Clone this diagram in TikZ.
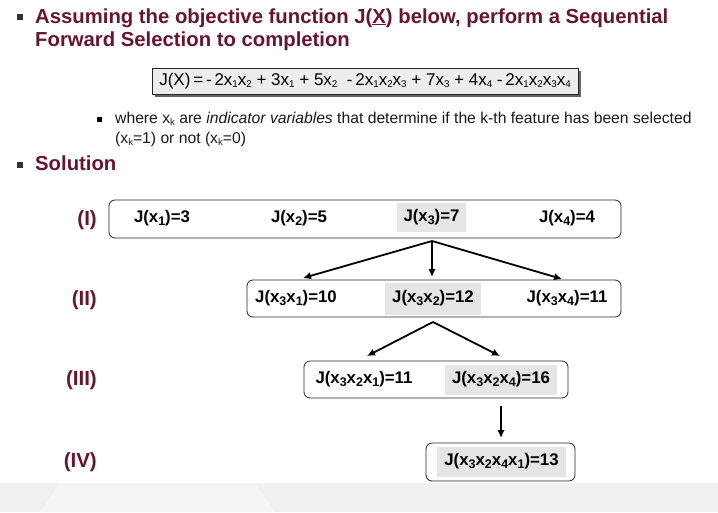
\documentclass[tikz,border=0pt]{standalone}
\usepackage{fontspec}
\setmainfont{Liberation Sans}
\usetikzlibrary{arrows.meta,shadows}
\definecolor{maroon}{RGB}{104,22,48}
\definecolor{hlgray}{RGB}{229,229,229}
\newcommand\fsub[1]{\raisebox{-2.4pt}{\fontsize{9.8}{9.8}\selectfont #1}}
\newcommand\tsub[1]{\raisebox{-2.2pt}{\fontsize{9.5}{9.5}\selectfont #1}}
\newcommand\bsub[1]{\raisebox{-3pt}{\fontsize{12.5}{12.5}\selectfont #1}}
\tikzset{
  head/.style={font=\fontsize{20.3}{23}\selectfont\bfseries, text=maroon, inner sep=0pt},
  lbl/.style={font=\fontsize{20.5}{22}\selectfont\bfseries, text=maroon, inner sep=0pt},
  bul/.style={fill=black!80, minimum size=6pt, inner sep=0pt},
  subbul/.style={fill=black, minimum size=5pt, inner sep=0pt},
  subtxt/.style={font=\fontsize{15.7}{18}\selectfont, text=black!90, inner sep=0pt},
  fbox/.style={draw=black!85, fill=black!7, minimum width=426pt, minimum height=26pt, inner sep=0pt,
    line width=0.8pt, font=\fontsize{17}{18}\selectfont,
    drop shadow={shadow xshift=3pt, shadow yshift=-3pt, fill=black!60, opacity=1}},
  stagebox/.style={draw=black!85, line width=0.8pt, rounded corners=6pt, inner sep=0pt},
  jt/.style={font=\fontsize{16.8}{18}\selectfont\bfseries, text height=12pt, text depth=4.5pt, inner sep=0pt},
  hl/.style={jt, fill=hlgray},
  arr/.style={-{Latex[length=8pt,width=7.5pt]}, line width=1.8pt, black}
}
\begin{document}
\begin{tikzpicture}[x=1pt,y=-1pt]
\useasboundingbox (0,0) rectangle (718,512);
\fill[white] (0,0) rectangle (718,512);
\fill[black!6] (0,483) rectangle (718,512);
\fill[black!4] (60,483) -- (255,483) -- (275,512) -- (40,512) -- cycle;

% heading
\node[bul] (bu1) at (20,17) {};
\node[head, anchor=base west] (h1) at (35,23) {Assuming the objective function J(\underline{X}) below, perform a Sequential};
\node[head, anchor=base west] (h2) at (35,46) {Forward Selection to completion};

% formula
\node[fbox] (fx) at (365,81) {J(X)\,=\,-\,2x\fsub{1}x\fsub{2} + 3x\fsub{1} + 5x\fsub{2} \ -\,2x\fsub{1}x\fsub{2}x\fsub{3} + 7x\fsub{3} + 4x\fsub{4} -\,2x\fsub{1}x\fsub{2}x\fsub{3}x\fsub{4}};

% sub bullet
\node[subbul] (bu2) at (99.5,119.5) {};
\node[subtxt, anchor=base west] (s1) at (115,123) {where x\tsub{k} are \textit{indicator variables} that determine if the k-th feature has been selected};
\node[subtxt, anchor=base west] (s2) at (115,143) {(x\tsub{k}=1) or not (x\tsub{k}=0)};

% solution
\node[bul] (bu3) at (20,164.5) {};
\node[head, anchor=base west] (sol) at (35,170) {Solution};

% stage labels
\node[lbl, anchor=base east] (l1) at (97,225) {(I)};
\node[lbl, anchor=base east] (l2) at (97,305) {(II)};
\node[lbl, anchor=base east] (l3) at (97,385) {(III)};
\node[lbl, anchor=base east] (l4) at (97,467) {(IV)};

% boxes
\node[stagebox, minimum width=512pt, minimum height=38pt] (B1) at (365,219) {};
\node[stagebox, minimum width=374pt, minimum height=37pt] (B2) at (434,298.5) {};
\node[stagebox, minimum width=264pt, minimum height=37pt] (B3) at (436,379.5) {};
\node[stagebox, minimum width=149pt, minimum height=38pt] (B4) at (500.5,462) {};

% stage I
\node[jt] (t11) at (162,219) {J(x\bsub{1})=3};
\node[jt] (t12) at (299,219) {J(x\bsub{2})=5};
\node[hl, minimum width=69pt, minimum height=29pt] (t13) at (431.5,217.5) {J(x\bsub{3})=7};
\node[jt] (t14) at (567,219) {J(x\bsub{4})=4};

% stage II
\node[jt] (t21) at (296,299) {J(x\bsub{3}x\bsub{1})=10};
\node[hl, minimum width=96pt, minimum height=32pt] (t22) at (433,299) {J(x\bsub{3}x\bsub{2})=12};
\node[jt] (t23) at (567,299) {J(x\bsub{3}x\bsub{4})=11};

% stage III
\node[jt] (t31) at (364,380) {J(x\bsub{3}x\bsub{2}x\bsub{1})=11};
\node[hl, minimum width=112pt, minimum height=30pt] (t32) at (501,380) {J(x\bsub{3}x\bsub{2}x\bsub{4})=16};

% stage IV
\node[hl, minimum width=129pt, minimum height=30pt] (t41) at (501.5,462) {J(x\bsub{3}x\bsub{2}x\bsub{4}x\bsub{1})=13};

% arrows
\coordinate (p1) at (432,241);
\coordinate (q1l) at (303,278);
\coordinate (q1m) at (432,277);
\coordinate (q1r) at (562,279);
\coordinate (p2) at (433,322);
\coordinate (q2l) at (367,356);
\coordinate (q2r) at (500,356);
\coordinate (p3) at (501,406);
\coordinate (q3) at (501,438);
\draw[arr] (p1) -- (q1l);
\draw[arr] (p1) -- (q1m);
\draw[arr] (p1) -- (q1r);
\draw[arr] (p2) -- (q2l);
\draw[arr] (p2) -- (q2r);
\draw[arr] (p3) -- (q3);
\end{tikzpicture}
\end{document}
